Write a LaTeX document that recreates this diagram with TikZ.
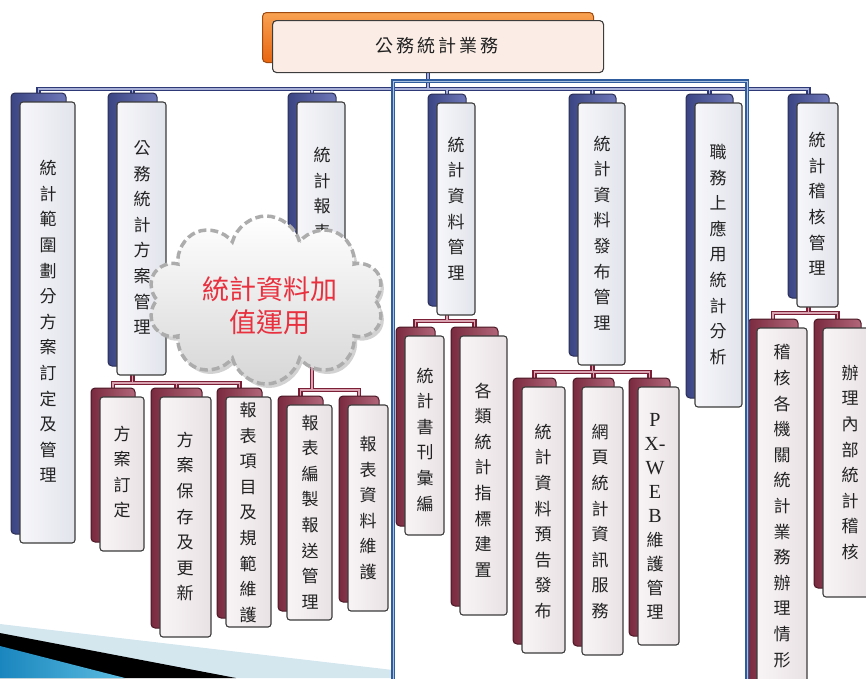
\documentclass[tikz,border=0pt]{standalone}
\usepackage{fontspec}
\setmainfont{Liberation Serif}
\newfontfamily\cjk{Noto Sans CJK TC}
\usetikzlibrary{shapes.symbols,shadows}
\pgfdeclarelayer{bg}
\pgfsetlayers{bg,main}
\definecolor{navyA}{HTML}{3C4584}
\definecolor{navyB}{HTML}{6E78B8}
\definecolor{navyedge}{HTML}{2A2E55}
\definecolor{navybus}{HTML}{2E3A78}
\definecolor{navylight}{HTML}{A9B0D8}
\definecolor{marA}{HTML}{7A2A3E}
\definecolor{marB}{HTML}{B26679}
\definecolor{maredge}{HTML}{4A1826}
\definecolor{marbus}{HTML}{7A1F36}
\definecolor{marlight}{HTML}{D9A3B1}
\definecolor{frontedge}{HTML}{3C3C3C}
\definecolor{frontA}{HTML}{F7F7FA}
\definecolor{frontB}{HTML}{E2E4EC}
\definecolor{frontmA}{HTML}{F8F4F5}
\definecolor{frontmB}{HTML}{E9E2E5}
\definecolor{orA}{HTML}{F8A252}
\definecolor{orB}{HTML}{E8650F}
\definecolor{oredge}{HTML}{A04A10}
\definecolor{peach}{HTML}{FBEDE6}
\definecolor{framecol}{HTML}{2F5C9C}
\definecolor{framelight}{HTML}{A9C1E0}
\definecolor{cloudred}{HTML}{E8303F}
\definecolor{bandlight}{HTML}{D4E7EF}
\definecolor{cyanA}{HTML}{1A86BE}
\definecolor{cyanB}{HTML}{5BBCE0}
\definecolor{textcol}{HTML}{222222}
\tikzset{
  backnavy/.style={draw=navyedge, line width=1pt, rounded corners=4pt, left color=navyA, right color=navyB, inner sep=0pt, outer sep=0pt},
  frontnavy/.style={draw=frontedge, line width=1.1pt, rounded corners=3pt, left color=frontA, right color=frontB, inner sep=0pt, outer sep=0pt},
  backmar/.style={draw=maredge, line width=1pt, rounded corners=4pt, left color=marA, right color=marB, inner sep=0pt, outer sep=0pt},
  frontmar/.style={draw=frontedge, line width=1.1pt, rounded corners=3pt, left color=frontmA, right color=frontmB, inner sep=0pt, outer sep=0pt},
  vtext/.style={font=\cjk\fontsize{17}{25.6}\selectfont, align=center, inner sep=0pt, text=textcol},
  navyconn/.style={draw=navybus, line width=1.6pt, double=navylight, double distance=1.3pt},
  marconn/.style={draw=marbus, line width=1.6pt, double=marlight, double distance=1.3pt},
  framestyle/.style={draw=framecol, line width=1.1pt, double=framelight, double distance=1pt},
}
\newcommand\mybox[6]{%
  \pgfmathsetmacro\mbw{#4-#2}%
  \pgfmathsetmacro\mbh{#5-#3}%
  \node[back#6, minimum width=\mbw pt, minimum height=\mbh pt, anchor=north west] (#1b) at ({#2-9},{#3-9}) {};
  \node[front#6, minimum width=\mbw pt, minimum height=\mbh pt, anchor=north west] (#1) at (#2,#3) {};
}
\begin{document}
\begin{tikzpicture}[x=1pt,y=-1pt]
\useasboundingbox (0,0) rectangle (866,678);
\clip (0,0) rectangle (866,678);

% bottom-left decoration
\fill[bandlight] (0,624) -- (393,670) -- (393,678) -- (0,678) -- cycle;
\fill[black] (0,633) -- (236,678) -- (0,678) -- cycle;
\shade[left color=cyanA, right color=cyanB] (0,646) -- (125,678) -- (0,678) -- cycle;

% top node
\node[draw=oredge, line width=1pt, rounded corners=4pt, top color=orA, bottom color=orB, minimum width=331pt, minimum height=50pt, anchor=north west, inner sep=0pt] (topb) at (262,12) {};
\node[draw=frontedge, line width=1.1pt, rounded corners=4pt, fill=peach, minimum width=331pt, minimum height=52pt, anchor=north west, inner sep=0pt] (top) at (272,20) {};
\node[font=\cjk\fontsize{18}{20}\selectfont, text=textcol] (toptext) at (437,46) {公\,務\,統\,計\,業\,務};

% level 1
\mybox{n1}{20}{102}{75}{543}{navy}
\mybox{n2}{117}{102}{166}{375}{navy}
\mybox{n3}{297}{102}{345}{340}{navy}
\mybox{n4}{437}{103}{475}{315}{navy}
\mybox{n5}{578}{103}{625}{365}{navy}
\mybox{n6}{695}{103}{742}{407}{navy}
\mybox{n7}{797}{103}{838}{307}{navy}

% level 2
\mybox{a}{100}{397}{144}{551}{mar}
\mybox{b}{160}{397}{211}{637}{mar}
\mybox{c}{226}{397}{271}{627}{mar}
\mybox{d}{287}{405}{332}{620}{mar}
\mybox{e}{348}{405}{388}{611}{mar}
\mybox{f}{405}{336}{444}{535}{mar}
\mybox{g}{460}{336}{507}{615}{mar}
\mybox{h}{522}{387}{565}{653}{mar}
\mybox{i}{582}{387}{623}{655}{mar}
\mybox{j}{638}{387}{679}{645}{mar}
\mybox{k}{757}{328}{807}{700}{mar}
\mybox{l}{823}{328}{870}{597}{mar}

% texts
\node[vtext] (t1) at (48,321.5) {統\\計\\範\\圍\\劃\\分\\方\\案\\訂\\定\\及\\管\\理};
\node[vtext] (t2) at (142,237.5) {公\\務\\統\\計\\方\\案\\管\\理};
\node[vtext] (t3) at (322,193.4) {統\\計\\報\\表};
\node[vtext] (t4) at (456,208.5) {統\\計\\資\\料\\管\\理};
\node[vtext] (t5) at (602,233) {統\\計\\資\\料\\發\\布\\管\\理};
\node[vtext] (t6) at (718,254.5) {職\\務\\上\\應\\用\\統\\計\\分\\析};
\node[vtext] (t7) at (817,204) {統\\計\\稽\\核\\管\\理};
\node[vtext] (ta) at (122,472) {方\\案\\訂\\定};
\node[vtext] (tb) at (185,516.5) {方\\案\\保\\存\\及\\更\\新};
\node[vtext] (tc) at (248,512.5) {報\\表\\項\\目\\及\\規\\範\\維\\護};
\node[vtext] (td) at (310,512) {報\\表\\編\\製\\報\\送\\管\\理};
\node[vtext] (te) at (368,508) {報\\表\\資\\料\\維\\護};
\node[vtext] (tf) at (425,439.5) {統\\計\\書\\刊\\彙\\編};
\node[vtext] (tg) at (483,480) {各\\類\\統\\計\\指\\標\\建\\置};
\node[vtext] (th) at (543,521.5) {統\\計\\資\\料\\預\\告\\發\\布};
\node[vtext] (ti) at (600,521.5) {網\\頁\\統\\計\\資\\訊\\服\\務};
\node[vtext, font=\cjk\fontsize{17}{24}\selectfont] (tj) at (655,516.5) {{\rmfamily\fontsize{20}{24}\selectfont P}\\{\rmfamily\fontsize{20}{24}\selectfont X-}\\{\rmfamily\fontsize{20}{24}\selectfont W}\\{\rmfamily\fontsize{20}{24}\selectfont E}\\{\rmfamily\fontsize{20}{24}\selectfont B}\\維\\護\\管\\理};
\node[vtext] (tk) at (782,506) {稽\\核\\各\\機\\關\\統\\計\\業\\務\\辦\\理\\情\\形};
\node[vtext] (tl) at (850,462.5) {辦\\理\\內\\部\\統\\計\\稽\\核};

% connectors
\begin{pgfonlayer}{bg}
\draw[navyconn] (topb.south) -- ++(0,26) -| (n1b.north)
  (topb.south) -- ++(0,26) -| (n2b.north)
  (topb.south) -- ++(0,26) -| (n3b.north)
  (topb.south) -- ++(0,26) -| (n4b.north)
  (topb.south) -- ++(0,26) -| (n5b.north)
  (topb.south) -- ++(0,26) -| (n6b.north)
  (topb.south) -- ++(0,26) -| (n7b.north);
\draw[marconn] (n2b.south) -- ++(0,17) -| (ab.north)
  (n2b.south) -- ++(0,17) -| (bb.north)
  (n2b.south) -- ++(0,17) -| (cb.north);
\draw[marconn] (n3b.south) -- ++(0,59) -| (db.north)
  (n3b.south) -- ++(0,59) -| (eb.north);
\draw[marconn] (n4b.south) -- ++(0,15) -| (fb.north)
  (n4b.south) -- ++(0,15) -| (gb.north);
\draw[marconn] (n5b.south) -- ++(0,16) -| (hb.north)
  (n5b.south) -- ++(0,16) -| (ib.north)
  (n5b.south) -- ++(0,16) -| (jb.north);
\draw[marconn] (n7b.south) -- ++(0,15) -| (kb.north)
  (n7b.south) -- ++(0,15) -| (lb.north);
\end{pgfonlayer}

% blue frame
\draw[framestyle] (393,700) -- (393,81) -- (747,81) -- (747,700);

% cloud
\node[cloud, cloud puffs=10, cloud ignores aspect, draw=gray!65, dash pattern=on 8pt off 4pt, line width=3.5pt, top color=white, bottom color=gray!32, minimum width=236pt, minimum height=168pt, drop shadow={shadow xshift=3pt, shadow yshift=-4pt, fill=gray!70}] (cloud) at (266,300) {};
\node[font=\cjk\fontsize{27}{33}\selectfont, text=cloudred, align=center] (cloudtext) at (270,306) {統計資料加\\值運用};
\end{tikzpicture}
\end{document}
